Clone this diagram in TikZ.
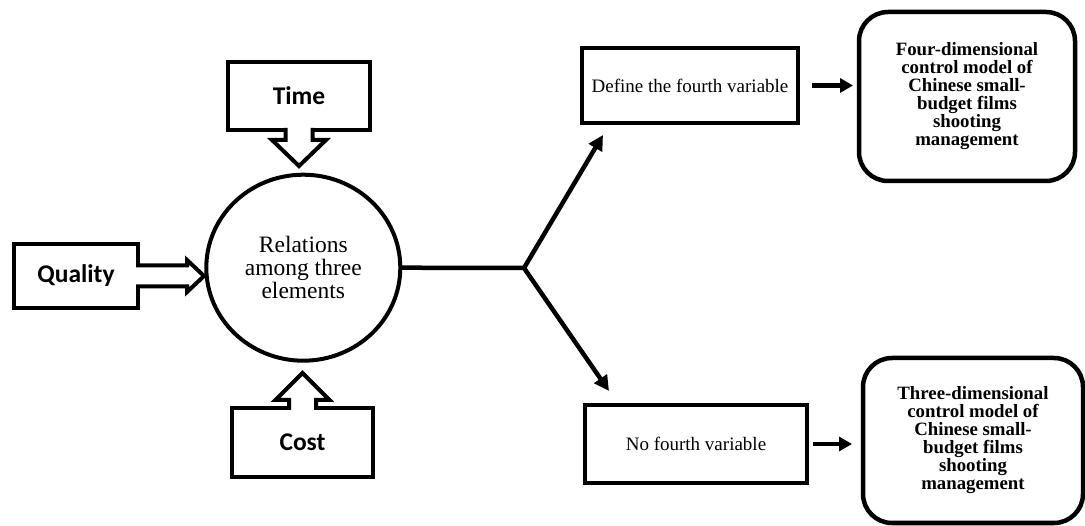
\documentclass[tikz,border=0pt]{standalone}
\usepackage{fontspec}
\setmainfont{Liberation Serif}
\newfontfamily\labelfont{Carlito}
\usetikzlibrary{arrows.meta,calc,shapes.geometric}
\begin{document}
\begin{tikzpicture}[x=1pt,y=-1pt,
  every node/.style={inner sep=0pt, outer sep=0pt},
  labelbox/.style={draw, line width=4.5pt, font=\labelfont\bfseries\fontsize{25.5}{28}\selectfont},
  stepbox/.style={draw, line width=4.5pt, font=\fontsize{19}{22}\selectfont},
  modelbox/.style={draw, line width=4.5pt, rounded corners=29pt, align=center,
    font=\bfseries\fontsize{18.8}{18}\selectfont},
  hub/.style={draw, ellipse, line width=4pt, align=center,
    font=\fontsize{23.5}{23}\selectfont},
  blockarrow/.style={line width=4pt, line join=miter},
  conn/.style={line width=4.5pt},
  smalltip/.style={-{Triangle[length=13pt,width=14pt]}}
]
\useasboundingbox (0,0) rectangle (1085,526);

% the three constraints and the relation between them
\node[hub, minimum width=194pt, minimum height=186pt] (rel) at (303.3,267.7)
  {Relations\\among three\\elements};
\node[labelbox, minimum width=142pt, minimum height=68pt] (time) at (299,96) {Time};
\node[labelbox, minimum width=124pt, minimum height=64pt] (quality) at (76,276) {Quality};
\node[labelbox, minimum width=141pt, minimum height=69pt] (cost) at (302.5,442.5) {Cost};

% hollow block arrows from the labels towards the circle
\fill[white] ($(time.south)+(-13.5,-3)$) -- ++(0,13) -- ++(-13.5,0)
  -- ($(time.south)+(0,36)$) -- ($(time.south)+(27,10)$) -- ++(-13.5,0) -- ++(0,-13) -- cycle;
\draw[blockarrow] ($(time.south)+(-13.5,-2)$) -- ++(0,12) -- ++(-13.5,0)
  -- ($(time.south)+(0,36)$) -- ($(time.south)+(27,10)$) -- ++(-13.5,0) -- ++(0,-12);

\fill[white] ($(cost.north)+(-13.5,3)$) -- ++(0,-11) -- ++(-13.5,0)
  -- ($(cost.north)+(0,-35)$) -- ($(cost.north)+(27,-8)$) -- ++(-13.5,0) -- ++(0,11) -- cycle;
\draw[blockarrow] ($(cost.north)+(-13.5,2)$) -- ++(0,-10) -- ++(-13.5,0)
  -- ($(cost.north)+(0,-35)$) -- ($(cost.north)+(27,-8)$) -- ++(-13.5,0) -- ++(0,10);

\fill[white] ($(quality.east)+(-3,-10.5)$) -- ++(52,0) -- ++(0,-5.5)
  -- ($(quality.east)+(66,0)$) -- ($(quality.east)+(49,16)$) -- ++(0,-5.5) -- ++(-52,0) -- cycle;
\draw[blockarrow] ($(quality.east)+(-2,-10.5)$) -- ++(51,0) -- ++(0,-5.5)
  -- ($(quality.east)+(66,0)$) -- ($(quality.east)+(49,16)$) -- ++(0,-5.5) -- ++(-51,0);

% the two outcomes
\node[stepbox, minimum width=216pt, minimum height=75pt] (define) at (690,85.5)
  {Define the fourth variable};
\node[stepbox, minimum width=222pt, minimum height=78pt] (nofourth) at (696,444)
  {No fourth variable};
\node[modelbox, minimum width=216pt, minimum height=169pt] (four) at (967,96.5)
  {Four-dimensional\\control model of\\Chinese small-\\budget films\\shooting\\management};
\node[modelbox, minimum width=220pt, minimum height=165pt] (three) at (973,440.5)
  {Three-dimensional\\control model of\\Chinese small-\\budget films\\shooting\\management};

% branching connector
\coordinate (fork) at (524,268);
\coordinate (upend) at (603,135);
\coordinate (downend) at (609,391);
\draw[conn] (rel.east) -- (fork);
\draw[conn, line join=miter, {Triangle[length=15pt,width=15pt]}-{Triangle[length=15pt,width=15pt]}]
  (upend) -- (fork) -- (downend);

\draw[conn, smalltip] ([xshift=14pt]define.east) -- ([xshift=-6pt]four.west |- define.east);
\draw[conn, smalltip] ([xshift=6pt]nofourth.east) -- ([xshift=-11pt]three.west |- nofourth.east);
\end{tikzpicture}
\end{document}
